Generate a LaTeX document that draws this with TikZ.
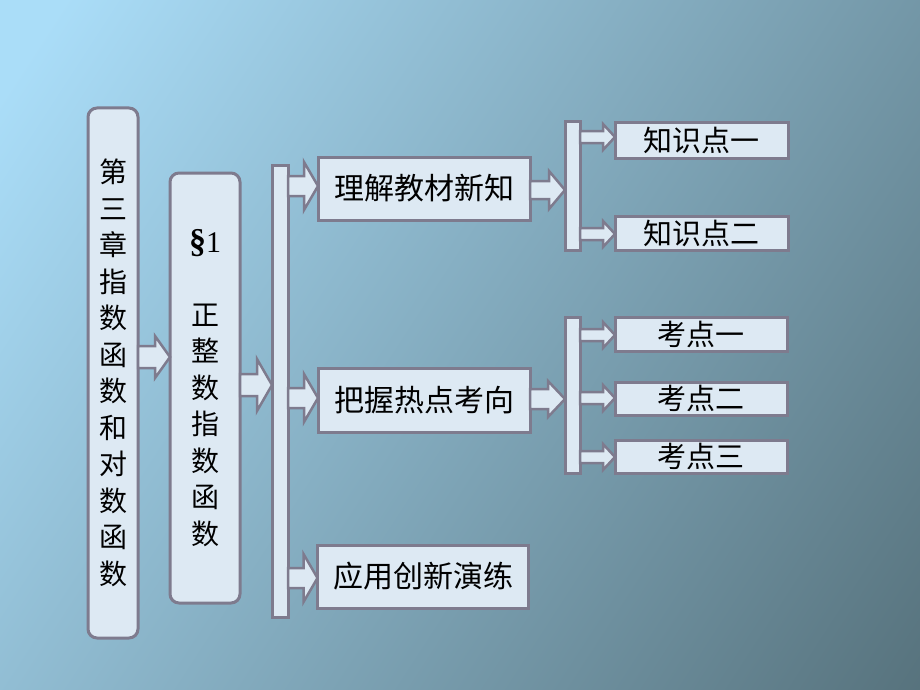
\documentclass[tikz,border=0pt]{standalone}
\usepackage{fontspec}
\setmainfont{Noto Sans CJK SC}
\newfontfamily\serfont{Liberation Serif}
\usetikzlibrary{calc}
\definecolor{bgTL}{HTML}{AADDF8}
\definecolor{bgMID}{HTML}{88B9CF}
\definecolor{bgBR}{HTML}{55707A}
\definecolor{boxfill}{HTML}{DDE9F3}
\definecolor{bordercol}{HTML}{7E7B8E}
\tikzset{
  box/.style={draw=bordercol, line width=3pt, fill=boxfill, inner sep=0pt, outer sep=0pt, text=black},
  vbox/.style={box, rounded corners=9pt, align=center, font=\fontsize{28}{36.5}\selectfont},
  barbox/.style={box},
  hbox/.style={box, font=\fontsize{30}{32}\selectfont},
  sbox/.style={box, font=\fontsize{29}{31}\selectfont},
  arrowsty/.style={draw=bordercol, line width=2.5pt, fill=boxfill, line join=miter}
}
% #1 source, #2 target, #3 y, #4 shaft half, #5 head half, #6 head length
\newcommand\blockarr[6]{%
  \filldraw[arrowsty] let \p1=(#1 |- 0,#3), \p2=(#2 |- 0,#3) in
    (\x1,\y1+#4pt) -- (\x2-#6pt,\y1+#4pt) -- (\x2-#6pt,\y1+#5pt) -- (\x2,\y1)
    -- (\x2-#6pt,\y1-#5pt) -- (\x2-#6pt,\y1-#4pt) -- (\x1,\y1-#4pt) -- cycle;}
\begin{document}
\begin{tikzpicture}[x=1pt,y=-1pt]
\useasboundingbox (0,0) rectangle (920,690);
\begin{scope}[x=1pt,y=1pt]
  \clip (0,0) rectangle (920,-690);
  \fill[bgTL] (0,0) rectangle (460,-690);
  \fill[bgBR] (460,0) rectangle (920,-690);
  \begin{scope}[transform canvas={rotate around={-33:(460,-345)}}]
    \shade[left color=bgTL, middle color=bgMID, right color=bgBR]
      (460+40-560,-345-700) rectangle (460+40+560,-345+700);
  \end{scope}
\end{scope}

\node[vbox, minimum width=50pt, minimum height=530pt] (b1) at (113,373)
  {第\\三\\章\\指\\数\\函\\数\\和\\对\\数\\函\\数};
\node[vbox, minimum width=70pt, minimum height=430pt] (b2) at (205,388)
  {{\serfont\fontsize{30}{36}\selectfont{\fontsize{34}{36}\selectfont\textbf{§}}1}\\[36pt]正\\整\\数\\指\\数\\函\\数};
\node[barbox, minimum width=16pt, minimum height=452pt] (bar1) at (280,391) {};
\node[hbox, minimum width=212pt, minimum height=63pt] (t1) at (424,188.5) {理解教材新知};
\node[hbox, minimum width=212pt, minimum height=64pt] (t2) at (424,400) {把握热点考向};
\node[hbox, minimum width=211pt, minimum height=63pt] (t3) at (423,576.5) {应用创新演练};
\node[barbox, minimum width=15pt, minimum height=128pt] (bar2) at (572.5,186) {};
\node[barbox, minimum width=15pt, minimum height=156pt] (bar3) at (572.5,395) {};
\node[sbox, minimum width=173pt, minimum height=35pt] (k1) at (701.5,140.5) {知识点一};
\node[sbox, minimum width=173pt, minimum height=34pt] (k2) at (701.5,233) {知识点二};
\node[sbox, minimum width=172pt, minimum height=34pt] (p1) at (701,334) {考点一};
\node[sbox, minimum width=172pt, minimum height=33pt] (p2) at (701,398.5) {考点二};
\node[sbox, minimum width=172pt, minimum height=33pt] (p3) at (701,456.5) {考点三};

\blockarr{b1.east}{b2.west}{357}{11}{21}{15}
\blockarr{b2.east}{bar1.west}{385}{11}{26}{15}
\blockarr{bar1.east}{t1.west}{186}{10}{24}{14}
\blockarr{bar1.east}{t2.west}{398}{10}{24}{14}
\blockarr{bar1.east}{t3.west}{578}{10}{24}{14}
\blockarr{t1.east}{bar2.west}{190}{9}{19}{16}
\blockarr{t2.east}{bar3.west}{399}{10}{18}{17}
\blockarr{bar2.east}{k1.west}{137}{6}{13}{12}
\blockarr{bar2.east}{k2.west}{234}{6}{13}{12}
\blockarr{bar3.east}{p1.west}{335}{6}{13}{12}
\blockarr{bar3.east}{p2.west}{398}{6}{13}{12}
\blockarr{bar3.east}{p3.west}{457}{6}{13}{12}
\end{tikzpicture}
\end{document}
